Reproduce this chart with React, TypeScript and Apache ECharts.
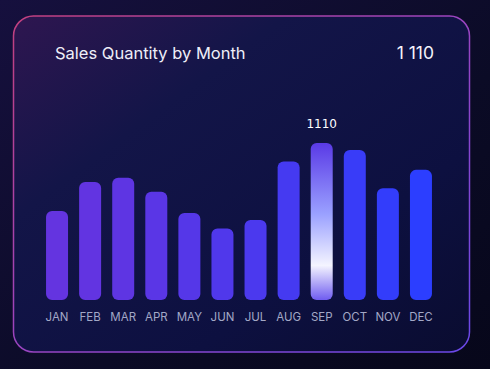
import React, { useEffect, useRef } from "react";
import * as echarts from "echarts";

const months = ["JAN", "FEB", "MAR", "APR", "MAY", "JUN", "JUL", "AUG", "SEP", "OCT", "NOV", "DEC"];
const quantities = [630, 835, 865, 765, 615, 505, 565, 980, 1110, 1060, 790, 920];
const highlightIndex = 8;
const titleText = "Sales Quantity by Month";
const totalText = "1 110";

function lerpColor(a: number[], b: number[], t: number) {
  const c = a.map((v, i) => Math.round(v + (b[i] - v) * t));
  return `rgb(${c[0]},${c[1]},${c[2]})`;
}

export default function App() {
  const ref = useRef<HTMLDivElement>(null);
  useEffect(() => {
    document.body.style.margin = "0";
    const chart = echarts.init(ref.current!, null, { renderer: "svg" });
    const start = [100, 52, 224];
    const end = [44, 62, 255];
    const data = quantities.map((v, i) => {
      if (i === highlightIndex) {
        return {
          value: v,
          itemStyle: {
            color: new echarts.graphic.LinearGradient(0, 0, 0, 1, [
              { offset: 0, color: "#5a3ae6" },
              { offset: 0.45, color: "#9aa0ff" },
              { offset: 0.78, color: "#f4f4ff" },
              { offset: 1, color: "#6f5cf0" },
            ]),
          },
          label: {
            show: true,
            position: "top",
            distance: 13,
            color: "#ffffff",
            fontSize: 12,
            fontFamily: "DejaVu Sans",
          },
        };
      }
      const t = Math.pow(i / (quantities.length - 1), 1.3);
      return {
        value: v,
        itemStyle: { color: lerpColor(start, end, t) },
      };
    });
    chart.setOption({
      animation: false,
      backgroundColor: new echarts.graphic.LinearGradient(0, 0, 1, 1, [
        { offset: 0, color: "#16103e" },
        { offset: 0.6, color: "#0b0b26" },
        { offset: 1, color: "#07071a" },
      ]),
      graphic: [
        {
          type: "rect",
          z: -10,
          shape: { x: 13.5, y: 16, width: 456, height: 336, r: 20 },
          style: {
            fill: new echarts.graphic.LinearGradient(0, 0, 1, 1, [
              { offset: 0, color: "#2e1650" },
              { offset: 0.3, color: "#131548" },
              { offset: 0.7, color: "#0d1040" },
              { offset: 1, color: "#0a0c30" },
            ]),
            stroke: new echarts.graphic.LinearGradient(0, 0, 1, 1, [
              { offset: 0, color: "#c2407e" },
              { offset: 0.5, color: "#9a44c0" },
              { offset: 1, color: "#6a48e8" },
            ]),
            lineWidth: 1.5,
          },
        },
        {
          type: "text",
          left: 55,
          top: 44,
          style: { text: titleText, fill: "#eeeef8", fontSize: 16.5, fontFamily: "Inter" },
        },
        {
          type: "text",
          right: 56,
          top: 43,
          style: { text: totalText, fill: "#f4f4fc", fontSize: 17.5, fontFamily: "Inter" },
        },
      ],
      grid: { left: 40.5, right: 52.5, top: 143, bottom: 69, containLabel: false },
      xAxis: {
        type: "category",
        data: months,
        axisLine: { show: false },
        axisTick: { show: false },
        axisLabel: { interval: 0, color: "#a3a8c6", fontSize: 11.5, fontFamily: "Inter", margin: 11 },
      },
      yAxis: {
        type: "value",
        min: 0,
        max: 1110,
        show: false,
        splitLine: { show: false },
      },
      series: [
        {
          type: "bar",
          data,
          barWidth: 22,
          itemStyle: { borderRadius: 6 },
        },
      ],
    });
    return () => chart.dispose();
  }, []);
  return <div ref={ref} style={{ position: "fixed", left: 0, top: 0, width: 490, height: 369 }} />;
}
